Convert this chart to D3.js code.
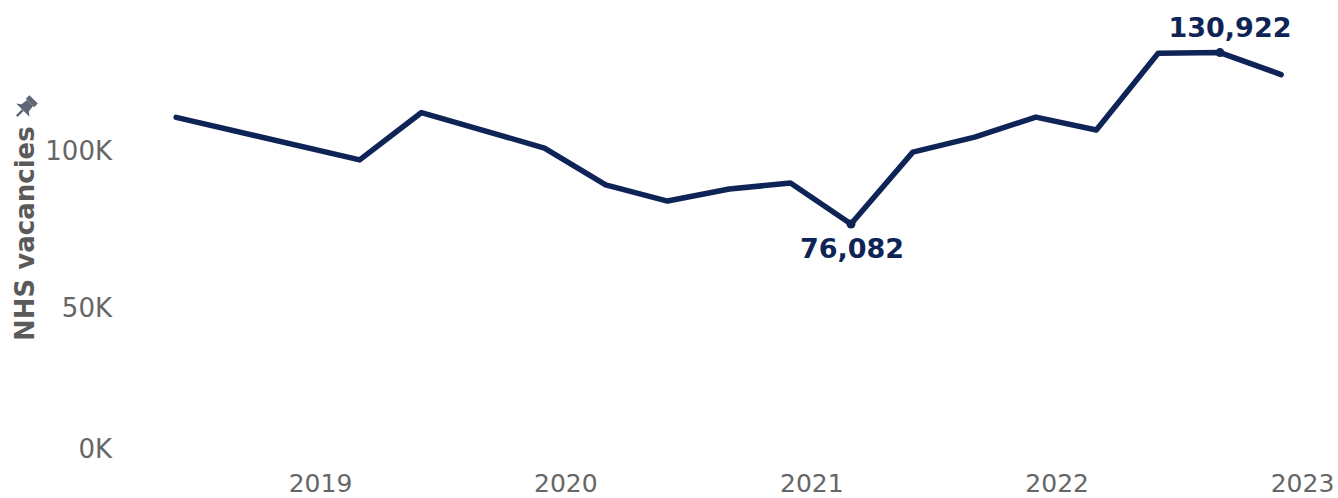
<!DOCTYPE html>
<html>
<head>
<meta charset="utf-8">
<script src="https://cdn.jsdelivr.net/npm/d3@7"></script>
<style>
  html, body { margin: 0; padding: 0; background: #fff; }
  svg { display: block; font-family: "DejaVu Sans", Verdana, sans-serif; }
</style>
</head>
<body>
<svg id="chart" width="1338" height="498"></svg>
<script>
// Quarterly NHS vacancy counts (England)
const quarters = [
  "2018-06-01", "2019-03-01", "2019-06-01", "2019-12-01",
  "2020-03-01", "2020-06-01", "2020-09-01", "2020-12-01",
  "2021-03-01", "2021-06-01", "2021-09-01", "2021-12-01",
  "2022-03-01", "2022-06-01", "2022-09-01", "2022-12-01"
];
const vacancies = [
  110200, 96600, 111750, 100400,
  88600, 83450, 87300, 89200,
  76082, 99100, 103900, 110300,
  106150, 130700, 130922, 123900
];
// Points that carry a value label: index and label side
const labelledPoints = [
  { index: 8, side: "below" },
  { index: 14, side: "above" }
];
const yearTicks = ["2019", "2020", "2021", "2022", "2023"];
const valueTicks = [0, 50000, 100000];
const axisTitle = "NHS vacancies";

const parseDay = d3.timeParse("%Y-%m-%d");
const parseYear = d3.timeParse("%Y");
const data = quarters.map((q, i) => ({ date: parseDay(q), value: vacancies[i] }));

const svg = d3.select("#chart");
const navy = "#0f2456";
const grey = "#666666";

const x = d3.scaleTime()
  .domain([parseYear("2019"), parseYear("2023")])
  .range([320, 1302]);

const y = d3.scaleLinear()
  .domain([0, 140000])
  .range([462, 24.2]);

// Year axis along the bottom
const xAxis = svg.append("g")
  .call(d3.axisBottom(x)
    .tickValues(yearTicks.map(parseYear))
    .tickFormat(d3.timeFormat("%Y"))
    .tickSize(0));
xAxis.select(".domain").remove();
xAxis.selectAll("text")
  .attr("y", 492)
  .attr("dy", null)
  .attr("fill", grey)
  .style("font-size", "25px")
  .style("font-family", "\"DejaVu Sans\", Verdana, sans-serif");

// Value axis on the left
const yAxis = svg.append("g")
  .attr("transform", "translate(112,0)")
  .call(d3.axisLeft(y)
    .tickValues(valueTicks)
    .tickFormat(d => (d / 1000) + "K")
    .tickSize(0)
    .tickPadding(0));
yAxis.select(".domain").remove();
yAxis.selectAll("text")
  .attr("y", d => d === 0 ? -14 : 1)
  .attr("dy", "0.36em")
  .attr("fill", grey)
  .style("font-size", "26px")
  .style("font-family", "\"DejaVu Sans\", Verdana, sans-serif");

// Rotated axis title with a small pin glyph above it
const titleX = 34, titleY = 341;
svg.append("text")
  .attr("transform", `translate(${titleX},${titleY}) rotate(-90)`)
  .attr("fill", "#5a5a5a")
  .style("font-size", "26px")
  .style("font-weight", "bold")
  .text(axisTitle);

svg.append("g")
  .attr("transform", "translate(24,109) rotate(45) scale(1.7)")
  .attr("fill", "#5d6672")
  .call(g => {
    g.append("rect").attr("x", -3.5).attr("y", -8).attr("width", 7).attr("height", 3);
    g.append("path").attr("d", "M-2.5,-5 L2.5,-5 L3,-1 L5.5,1 L-5.5,1 L-3,-1 Z");
    g.append("rect").attr("x", -0.7).attr("y", 1).attr("width", 1.4).attr("height", 5);
  });

// Vacancy line
const line = d3.line()
  .x(d => x(d.date))
  .y(d => y(d.value));

svg.append("path")
  .datum(data)
  .attr("fill", "none")
  .attr("stroke", navy)
  .attr("stroke-width", 5.5)
  .attr("stroke-linejoin", "round")
  .attr("stroke-linecap", "round")
  .attr("d", line);

// Highlighted points with value labels
const fmt = d3.format(",");
labelledPoints.forEach(p => {
  const d = data[p.index];
  const cx = x(d.date), cy = y(d.value);
  svg.append("circle")
    .attr("cx", cx).attr("cy", cy).attr("r", 4.5)
    .attr("fill", navy);
  svg.append("text")
    .attr("x", p.side === "above" ? cx + 10 : cx + 1)
    .attr("y", p.side === "above" ? cy - 16 : cy + 34)
    .attr("text-anchor", "middle")
    .attr("fill", navy)
    .style("font-size", "27px")
    .style("font-weight", "bold")
    .text(fmt(d.value));
});
</script>
</body>
</html>
